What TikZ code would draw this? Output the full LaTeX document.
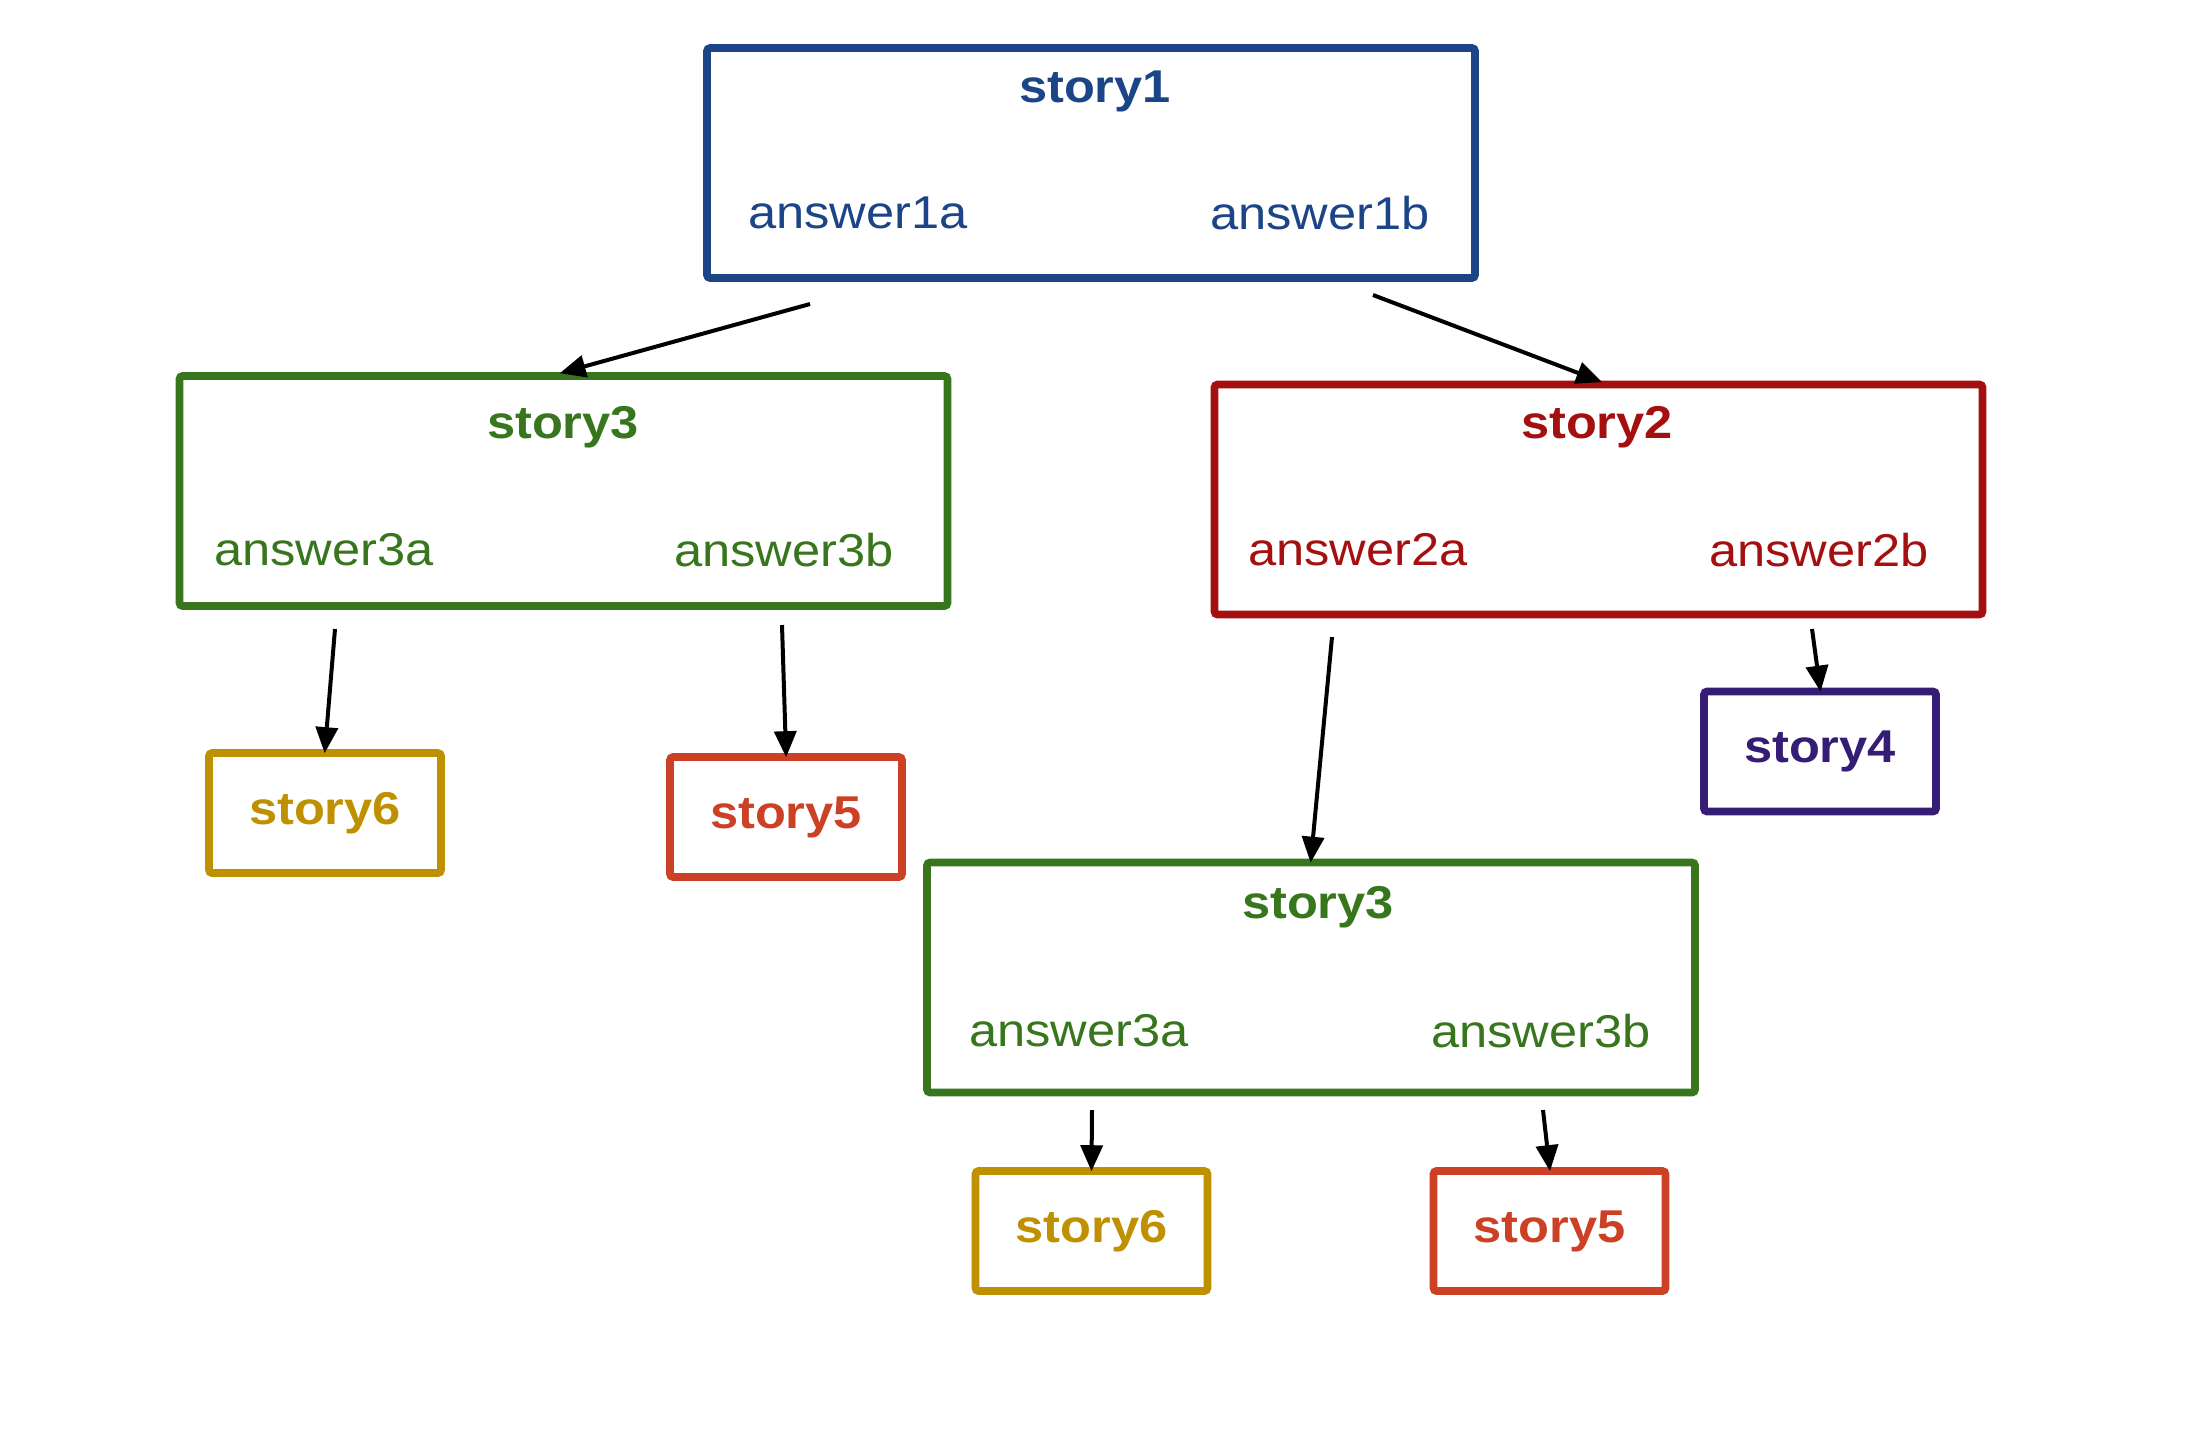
\documentclass[tikz,border=0pt]{standalone}
\usepackage{fontspec}
\setmainfont[FakeStretch=1.1]{Liberation Sans}
\usetikzlibrary{arrows.meta}
\definecolor{cblue}{HTML}{1C4587}
\definecolor{cgreen}{HTML}{38761D}
\definecolor{cred}{HTML}{A40F0F}
\definecolor{cpurple}{HTML}{351C75}
\definecolor{cyellow}{HTML}{BF9000}
\definecolor{corange}{HTML}{CC4125}
\tikzset{
  bigbox/.style={draw=#1, line width=3.8pt, rounded corners=1.5pt, minimum width=384pt, minimum height=115pt, inner sep=0pt},
  smallbox/.style={draw=#1, line width=3.8pt, rounded corners=1.5pt, minimum width=116pt, minimum height=60pt, inner sep=0pt, text=#1, font=\fontsize{23}{26}\selectfont\bfseries},
  ttl/.style={text=#1, font=\fontsize{23}{26}\selectfont\bfseries, inner sep=0pt},
  ans/.style={text=#1, font=\fontsize{23}{26}\selectfont, inner sep=0pt},
  conn/.style={draw=black, line width=2pt, -{Triangle[length=13pt,width=11pt]}, shorten >=-2pt}
}
\begin{document}
\begin{tikzpicture}[x=0.5pt,y=-0.5pt]
\fill[white] (0,0) rectangle (2206,1432);
\useasboundingbox (0,0) rectangle (2206,1432);
% story1
\node[bigbox=cblue] (s1) at (1091,163) {};
\node[ttl=cblue] (s1t) at (1095,91) {story1};
\node[ans=cblue] (a1a) at (858,213) {answer1a};
\node[ans=cblue] (a1b) at (1320,213) {answer1b};
% story3 left
\node[bigbox=cgreen] (s3l) at (563.5,491) {};
\node[ttl=cgreen] (s3lt) at (563,427) {story3};
\node[ans=cgreen] (a3la) at (324,550) {answer3a};
\node[ans=cgreen] (a3lb) at (784,550) {answer3b};
% story2
\node[bigbox=cred] (s2) at (1598.5,499.5) {};
\node[ttl=cred] (s2t) at (1597,427) {story2};
\node[ans=cred] (a2a) at (1358,550) {answer2a};
\node[ans=cred] (a2b) at (1819,550) {answer2b};
% small boxes
\node[smallbox=cyellow] (s6l) at (325,813) {story6};
\node[smallbox=corange] (s5l) at (786,817) {story5};
\node[smallbox=cpurple] (s4) at (1820,751.5) {story4};
% story3 bottom
\node[bigbox=cgreen] (s3b) at (1311,977.5) {};
\node[ttl=cgreen] (s3bt) at (1318,907) {story3};
\node[ans=cgreen] (a3ba) at (1079,1031) {answer3a};
\node[ans=cgreen] (a3bb) at (1541,1031) {answer3b};
\node[smallbox=cyellow] (s6b) at (1091.5,1231) {story6};
\node[smallbox=corange] (s5b) at (1549.5,1231) {story5};
% free ends of connectors
\coordinate (f1) at (810,304);
\coordinate (f2) at (1373,295);
\coordinate (f3) at (335,629);
\coordinate (f4) at (782,625);
\coordinate (f5) at (1332,637);
\coordinate (f6) at (1812,629);
\coordinate (f7) at (1092,1110);
\coordinate (f8) at (1543,1110);
% connectors
\draw[conn] (f1) -- (s3l.north);
\draw[conn] (f2) -- (s2.north);
\draw[conn] (f3) -- (s6l.north);
\draw[conn] (f4) -- (s5l.north);
\draw[conn] (f5) -- (s3b.north);
\draw[conn] (f6) -- (s4.north);
\draw[conn] (f7) -- (s6b.north);
\draw[conn] (f8) -- (s5b.north);
\end{tikzpicture}
\end{document}
